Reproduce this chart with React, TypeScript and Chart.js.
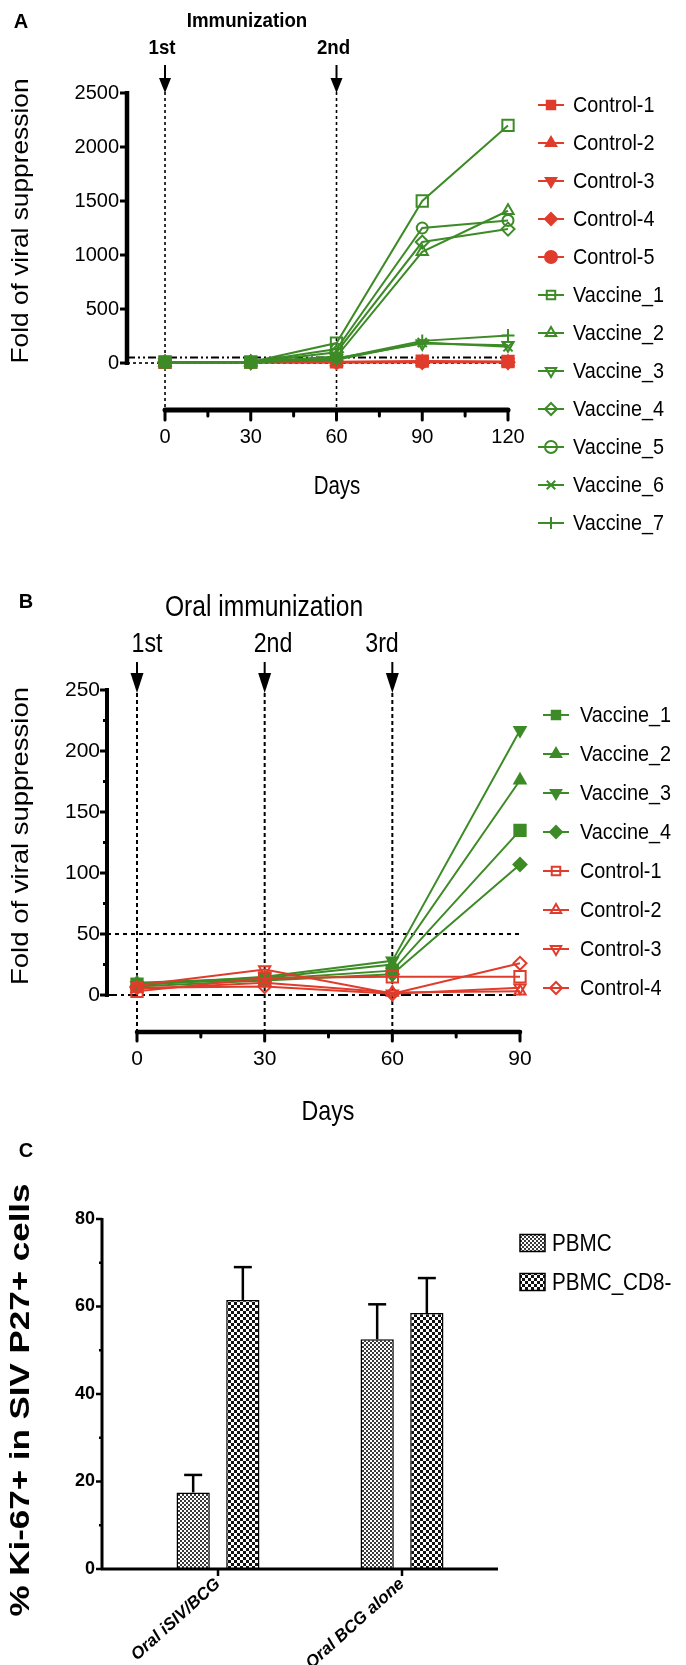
import { useEffect, useRef } from 'react'
import { Chart, registerables } from 'chart.js'

Chart.register(...registerables)

const SANS = "'Liberation Sans', Arial, Helvetica, sans-serif"
const GREEN = '#3d8b27'
const RED = '#e03c2c'

// ---- Panel A: fold of viral suppression, 2 immunizations
const daysA = [0, 30, 60, 90, 120]
const labelsA = ['Control-1', 'Control-2', 'Control-3', 'Control-4', 'Control-5',
  'Vaccine_1', 'Vaccine_2', 'Vaccine_3', 'Vaccine_4', 'Vaccine_5', 'Vaccine_6', 'Vaccine_7']
const control1A = [6, 8, 12, 18, 14]
const control2A = [5, 6, 9, 12, 9]
const control3A = [4, 7, 6, 9, 7]
const control4A = [7, 5, 8, 6, 6]
const control5A = [5, 6, 5, 8, 10]
const vaccine1A = [10, 9, 185, 1500, 2200]
const vaccine2A = [8, 10, 60, 1030, 1410]
const vaccine3A = [6, 8, 45, 180, 165]
const vaccine4A = [9, 7, 100, 1120, 1240]
const vaccine5A = [7, 9, 130, 1250, 1320]
const vaccine6A = [8, 6, 30, 190, 150]
const vaccine7A = [10, 9, 40, 205, 255]
const yTicksA = [0, 500, 1000, 1500, 2000, 2500]
const xTicksA = [0, 15, 30, 45, 60, 75, 90, 105, 120]
const shotsA = [0, 60]
const shotNamesA = ['1st', '2nd']

// ---- Panel B: oral immunization
const daysB = [0, 30, 60, 90]
const labelsB = ['Vaccine_1', 'Vaccine_2', 'Vaccine_3', 'Vaccine_4', 'Control-1', 'Control-2', 'Control-3', 'Control-4']
const vaccine1B = [9, 13, 20, 135]
const vaccine2B = [10, 14, 25, 176]
const vaccine3B = [8, 15, 28, 217]
const vaccine4B = [7, 12, 17, 107]
const control1B = [3, 14, 15, 15]
const control2B = [5, 10, 2, 3]
const control3B = [8, 21, 1, 6]
const control4B = [6, 7, 1, 26]
const yTicksB = [0, 25, 50, 75, 100, 125, 150, 175, 200, 225, 250]
const xTicksB = [0, 15, 30, 45, 60, 75, 90]
const shotsB = [0, 30, 60]
const shotNamesB = ['1st', '2nd', '3rd']

// ---- Panel C: % Ki-67+ bars
const groupsC = ['Oral iSIV/BCG', 'Oral BCG alone']
const pbmcC = [17.5, 52.5]
const pbmcErrC = [4, 8]
const cd8C = [61.5, 58.5]
const cd8ErrC = [7.5, 8]
const yTicksC = [0, 10, 20, 30, 40, 50, 60, 70, 80]

// ---------- drawing helpers
function txt(ctx: CanvasRenderingContext2D, s: string, x: number, y: number, font: string,
  o: { align?: CanvasTextAlign; sx?: number; rot?: number; len?: number } = {}) {
  ctx.save()
  ctx.translate(x, y)
  if (o.rot) ctx.rotate(o.rot)
  ctx.font = font
  let sx = o.sx ?? 1
  if (o.len) sx = o.len / ctx.measureText(s).width
  ctx.scale(sx, 1)
  ctx.fillStyle = '#000'
  ctx.textAlign = o.align ?? 'center'
  ctx.textBaseline = 'middle'
  ctx.fillText(s, 0, 0)
  ctx.restore()
}

function seg(ctx: CanvasRenderingContext2D, x0: number, y0: number, x1: number, y1: number, lw: number, dash: number[] = [], cap: CanvasLineCap = 'butt') {
  ctx.save()
  ctx.strokeStyle = '#000'
  ctx.lineWidth = lw
  ctx.lineCap = cap
  ctx.setLineDash(dash)
  ctx.beginPath()
  ctx.moveTo(x0, y0)
  ctx.lineTo(x1, y1)
  ctx.stroke()
  ctx.restore()
}

function arrow(ctx: CanvasRenderingContext2D, x: number, y0: number, y1: number, head: number, hw: number) {
  seg(ctx, x, y0, x, y1 - head + 2, 2)
  ctx.save()
  ctx.fillStyle = '#000'
  ctx.beginPath()
  ctx.moveTo(x - hw, y1 - head)
  ctx.lineTo(x + hw, y1 - head)
  ctx.lineTo(x, y1)
  ctx.closePath()
  ctx.fill()
  ctx.restore()
}

function drawMark(ctx: CanvasRenderingContext2D, mk: string, x: number, y: number, r: number, color: string, filled: boolean) {
  ctx.save()
  ctx.beginPath()
  if (mk === 'rect') {
    const s = r * Math.SQRT1_2
    ctx.rect(x - s, y - s, 2 * s, 2 * s)
  } else if (mk === 'circle') {
    ctx.arc(x, y, r, 0, Math.PI * 2)
  } else if (mk === 'rectRot') {
    ctx.moveTo(x, y - r); ctx.lineTo(x + r, y); ctx.lineTo(x, y + r); ctx.lineTo(x - r, y); ctx.closePath()
  } else if (mk === 'triangle' || mk === 'triDown') {
    const d = mk === 'triangle' ? 1 : -1
    for (let k = 0; k < 3; k++) {
      const a = (k * 2 * Math.PI) / 3
      const px = x + Math.sin(a) * r
      const py = y - d * Math.cos(a) * r
      if (k === 0) ctx.moveTo(px, py); else ctx.lineTo(px, py)
    }
    ctx.closePath()
  } else if (mk === 'cross') {
    ctx.moveTo(x - r, y); ctx.lineTo(x + r, y); ctx.moveTo(x, y - r); ctx.lineTo(x, y + r)
  } else if (mk === 'crossRot') {
    const s = r * Math.SQRT1_2
    ctx.moveTo(x - s, y - s); ctx.lineTo(x + s, y + s); ctx.moveTo(x + s, y - s); ctx.lineTo(x - s, y + s)
  }
  if (filled && mk !== 'cross' && mk !== 'crossRot') {
    ctx.fillStyle = color
    ctx.fill()
  }
  ctx.strokeStyle = color
  ctx.lineWidth = 2
  ctx.stroke()
  ctx.restore()
}

function lineSeries(label: string, days: number[], vals: number[], color: string, mk: string, filled: boolean, order: number) {
  return {
    label,
    data: days.map((d, i) => ({ x: d, y: vals[i] })),
    borderColor: color,
    backgroundColor: color,
    borderWidth: 2,
    pointStyle: mk === 'triDown' ? 'triangle' : mk,
    pointRotation: mk === 'triDown' ? 180 : 0,
    pointRadius: mk === 'rect' ? 8 : mk === 'circle' ? 5.5 : 6.5,
    pointBorderWidth: 2,
    pointBackgroundColor: filled ? color : 'rgba(255,255,255,0)',
    pointBorderColor: color,
    clip: false,
    order,
    mk,
    filled,
  }
}

function drawLegend(ctx: CanvasRenderingContext2D, chart: any, cx: number, tx: number, y0: number, dy: number) {
  chart.data.datasets.forEach((d: any, i: number) => {
    const y = y0 + i * dy
    ctx.save()
    ctx.strokeStyle = d.borderColor
    ctx.lineWidth = 2
    ctx.beginPath()
    ctx.moveTo(cx - 13, y)
    ctx.lineTo(cx + 13, y)
    ctx.stroke()
    ctx.restore()
    drawMark(ctx, d.mk, cx, y, 6, d.borderColor, d.filled)
    txt(ctx, d.label, tx, y + 1, `22px ${SANS}`, { align: 'left', sx: 0.9 })
  })
}

const hidden = { drawOnChartArea: false, drawTicks: true, color: 'rgba(0,0,0,0)' }

// ---------- Panel A
function configA(): any {
  const vals = [control1A, control2A, control3A, control4A, control5A,
    vaccine1A, vaccine2A, vaccine3A, vaccine4A, vaccine5A, vaccine6A, vaccine7A]
  const marks = ['rect', 'triangle', 'triDown', 'rectRot', 'circle', 'rect', 'triangle', 'triDown', 'rectRot', 'circle', 'crossRot', 'cross']
  const datasets = vals.map((v, i) =>
    lineSeries(labelsA[i], daysA, v, i < 5 ? RED : GREEN, marks[i], i < 5, i < 5 ? 1 : 0))

  const plugin = {
    id: 'panelA',
    beforeDatasetsDraw(chart: any) {
      const { ctx, chartArea: ca, scales: { x, y } } = chart
      shotsA.forEach(d => seg(ctx, x.getPixelForValue(d), 92, x.getPixelForValue(d), ca.bottom, 1.6, [3, 3]))
      seg(ctx, ca.left, y.getPixelForValue(0), x.getPixelForValue(120), y.getPixelForValue(0), 1.6, [3, 3])
      seg(ctx, ca.left, y.getPixelForValue(50), x.getPixelForValue(120), y.getPixelForValue(50), 2, [8, 3, 2, 3, 2, 3])
      // y axis
      seg(ctx, ca.left, y.getPixelForValue(0) + 2, ca.left, y.getPixelForValue(2500) - 2, 4.5)
      yTicksA.forEach(v => seg(ctx, ca.left, y.getPixelForValue(v), ca.left - 7, y.getPixelForValue(v), 3))
      // x axis
      seg(ctx, x.getPixelForValue(0), ca.bottom, x.getPixelForValue(120), ca.bottom, 5, [], 'round')
      xTicksA.forEach(v => seg(ctx, x.getPixelForValue(v), ca.bottom, x.getPixelForValue(v), ca.bottom + (v % 30 === 0 ? 10 : 6), 3, [], 'round'))
    },
    afterDraw(chart: any) {
      const { ctx, scales: { x } } = chart
      txt(ctx, 'A', 21, 22, `bold 20px ${SANS}`)
      txt(ctx, 'Immunization', 247, 21, `bold 21px ${SANS}`, { sx: 0.89 })
      shotsA.forEach((d, i) => {
        txt(ctx, shotNamesA[i], x.getPixelForValue(d) - 3, 48, `bold 21px ${SANS}`, { sx: 0.89 })
        arrow(ctx, x.getPixelForValue(d), 65, 93, 15, 6)
      })
      txt(ctx, 'Fold of viral suppression', 21, 221, `24px ${SANS}`, { rot: -Math.PI / 2, len: 285 })
      txt(ctx, 'Days', 337, 487, `25px ${SANS}`, { sx: 0.82 })
      drawLegend(ctx, chart, 551, 573, 105, 38)
    },
  }

  return {
    type: 'line',
    data: { datasets },
    plugins: [plugin],
    options: {
      animation: false,
      responsive: true,
      maintainAspectRatio: false,
      layout: { padding: { left: 0, top: 93, right: 178, bottom: 0 } },
      plugins: { legend: { display: false }, tooltip: { enabled: false } },
      scales: {
        x: {
          type: 'linear', min: -13.3, max: 120,
          afterFit: (s: any) => { s.height = 135 },
          afterBuildTicks: (s: any) => { s.ticks = xTicksA.map(v => ({ value: v })) },
          grid: { ...hidden, tickLength: 10 },
          border: { display: false },
          ticks: { autoSkip: false, maxRotation: 0, padding: 5, color: '#000', font: { size: 20, family: SANS },
            callback: (v: any) => (v % 30 === 0 ? String(v) : '') },
        },
        y: {
          min: -435, max: 2500,
          afterFit: (s: any) => { s.width = 127 },
          afterBuildTicks: (s: any) => { s.ticks = yTicksA.map(v => ({ value: v })) },
          grid: { ...hidden, tickLength: 6 },
          border: { display: false },
          ticks: { padding: 2, color: '#000', font: { size: 20, family: SANS }, callback: (v: any) => String(v) },
        },
      },
    },
  }
}

// ---------- Panel B
function configB(): any {
  const vals = [vaccine1B, vaccine2B, vaccine3B, vaccine4B, control1B, control2B, control3B, control4B]
  const marks = ['rect', 'triangle', 'triDown', 'rectRot', 'rect', 'triangle', 'triDown', 'rectRot']
  const datasets = vals.map((v, i) =>
    lineSeries(labelsB[i], daysB, v, i < 4 ? GREEN : RED, marks[i], i < 4, i < 4 ? 1 : 0))

  const plugin = {
    id: 'panelB',
    beforeDatasetsDraw(chart: any) {
      const { ctx, chartArea: ca, scales: { x, y } } = chart
      shotsB.forEach(d => seg(ctx, x.getPixelForValue(d), 133, x.getPixelForValue(d), ca.bottom, 2, [4, 3]))
      seg(ctx, ca.left, y.getPixelForValue(50), x.getPixelForValue(90), y.getPixelForValue(50), 2, [4, 4])
      seg(ctx, ca.left, y.getPixelForValue(0), x.getPixelForValue(90), y.getPixelForValue(0), 2, [10, 4, 3, 4])
      seg(ctx, ca.left, y.getPixelForValue(0) + 2, ca.left, y.getPixelForValue(250) - 2, 4)
      yTicksB.forEach(v => seg(ctx, ca.left, y.getPixelForValue(v), ca.left - (v % 50 === 0 ? 7 : 4), y.getPixelForValue(v), 3))
      seg(ctx, x.getPixelForValue(0), ca.bottom, x.getPixelForValue(90), ca.bottom, 4.5, [], 'round')
      xTicksB.forEach(v => seg(ctx, x.getPixelForValue(v), ca.bottom, x.getPixelForValue(v), ca.bottom + (v % 30 === 0 ? 9 : 5), 3, [], 'round'))
    },
    afterDraw(chart: any) {
      const { ctx, scales: { x } } = chart
      txt(ctx, 'B', 26, 42, `bold 20px ${SANS}`)
      txt(ctx, 'Oral immunization', 264, 48, `30px ${SANS}`, { sx: 0.82 })
      const nameX = [147, 273, 382]
      shotsB.forEach((d, i) => {
        txt(ctx, shotNamesB[i], nameX[i], 85, `27px ${SANS}`, { sx: 0.86 })
        arrow(ctx, x.getPixelForValue(d), 102, 133, 20, 6.5)
      })
      txt(ctx, 'Fold of viral suppression', 21, 276, `24px ${SANS}`, { rot: -Math.PI / 2, len: 298 })
      txt(ctx, 'Days', 328, 552, `28px ${SANS}`, { sx: 0.83 })
      drawLegend(ctx, chart, 556, 580, 155, 39)
    },
  }

  return {
    type: 'line',
    data: { datasets },
    plugins: [plugin],
    options: {
      animation: false,
      responsive: true,
      maintainAspectRatio: false,
      layout: { padding: { left: 0, top: 130, right: 166, bottom: 0 } },
      plugins: { legend: { display: false }, tooltip: { enabled: false } },
      scales: {
        x: {
          type: 'linear', min: -7.05, max: 90,
          afterFit: (s: any) => { s.height = 108 },
          afterBuildTicks: (s: any) => { s.ticks = xTicksB.map(v => ({ value: v })) },
          grid: { ...hidden, tickLength: 10 },
          border: { display: false },
          ticks: { autoSkip: false, maxRotation: 0, padding: 5, color: '#000', font: { size: 21, family: SANS },
            callback: (v: any) => (v % 30 === 0 ? String(v) : '') },
        },
        y: {
          min: -30.3, max: 250,
          afterFit: (s: any) => { s.width = 107 },
          afterBuildTicks: (s: any) => { s.ticks = yTicksB.map(v => ({ value: v })) },
          grid: { ...hidden, tickLength: 5 },
          border: { display: false },
          ticks: { autoSkip: false, padding: 2, color: '#000', font: { size: 21, family: SANS },
            callback: (v: any) => (v % 50 === 0 ? String(v) : '') },
        },
      },
    },
  }
}

// ---------- Panel C
function checker(cell: number, dark: string) {
  const c = document.createElement('canvas')
  c.width = c.height = cell * 2
  const g = c.getContext('2d')!
  g.fillStyle = '#fff'
  g.fillRect(0, 0, cell * 2, cell * 2)
  g.fillStyle = dark
  g.fillRect(0, 0, cell, cell)
  g.fillRect(cell, cell, cell, cell)
  return g.createPattern(c, 'repeat')
}

function configC(): any {
  const fine = checker(2, '#3a3a3a')
  const coarse = checker(3, '#111')
  const errs = [pbmcErrC, cd8ErrC]
  const datasets = [
    { label: 'PBMC', data: pbmcC.map((v, i) => ({ x: i, y: v })), backgroundColor: fine },
    { label: 'PBMC_CD8-', data: cd8C.map((v, i) => ({ x: i, y: v })), backgroundColor: coarse },
  ].map(d => ({ ...d, borderColor: '#000', borderWidth: 1.5, categoryPercentage: 0.54, barPercentage: 0.67 }))

  const plugin = {
    id: 'panelC',
    afterDatasetsDraw(chart: any) {
      const { ctx, chartArea: ca, scales: { x, y } } = chart
      chart.data.datasets.forEach((d: any, di: number) => {
        chart.getDatasetMeta(di).data.forEach((el: any, j: number) => {
          const v = d.data[j].y
          const top = y.getPixelForValue(v + errs[di][j])
          seg(ctx, el.x, y.getPixelForValue(v), el.x, top, 2.5)
          seg(ctx, el.x - 9, top, el.x + 9, top, 2.5)
        })
      })
      seg(ctx, ca.left, y.getPixelForValue(0), ca.left, y.getPixelForValue(80) - 1, 3)
      yTicksC.forEach(v => seg(ctx, ca.left, y.getPixelForValue(v), ca.left - (v % 20 === 0 ? 6 : 3), y.getPixelForValue(v), 2.5))
      seg(ctx, ca.left - 1, ca.bottom, ca.right, ca.bottom, 3)
      groupsC.forEach((_, i) => seg(ctx, x.getPixelForValue(i), ca.bottom, x.getPixelForValue(i), ca.bottom + 7, 2.5))
    },
    afterDraw(chart: any) {
      const { ctx } = chart
      txt(ctx, 'C', 26, 11, `bold 20px ${SANS}`)
      txt(ctx, '% Ki-67+ in SIV P27+ cells', 22, 260, `bold 27px ${SANS}`, { rot: -Math.PI / 2, len: 433 })
      chart.data.datasets.forEach((d: any, i: number) => {
        const yy = 103 + i * 39
        ctx.save()
        ctx.fillStyle = d.backgroundColor
        ctx.fillRect(520, yy - 8.5, 25, 17)
        ctx.strokeStyle = '#000'
        ctx.lineWidth = 1.5
        ctx.strokeRect(520, yy - 8.5, 25, 17)
        ctx.restore()
        txt(ctx, d.label, 552, yy + 1, `24px ${SANS}`, { align: 'left', sx: 0.86 })
      })
    },
  }

  return {
    type: 'bar',
    data: { datasets },
    plugins: [plugin],
    options: {
      animation: false,
      responsive: true,
      maintainAspectRatio: false,
      layout: { padding: { left: 0, top: 79, right: 188, bottom: 0 } },
      plugins: { legend: { display: false }, tooltip: { enabled: false } },
      scales: {
        x: {
          type: 'linear', min: -0.6304, max: 1.5217, offset: false,
          afterFit: (s: any) => { s.height = 96 },
          afterBuildTicks: (s: any) => { s.ticks = groupsC.map((_, i) => ({ value: i })) },
          grid: { ...hidden, offset: false, tickLength: 5 },
          border: { display: false },
          ticks: { autoSkip: false, minRotation: 42, maxRotation: 42, padding: 0, color: '#000',
            font: { size: 17, family: SANS, weight: 'bold', style: 'italic' },
            callback: (v: any) => groupsC[v] ?? '' },
        },
        y: {
          min: 0, max: 80,
          afterFit: (s: any) => { s.width = 102 },
          afterBuildTicks: (s: any) => { s.ticks = yTicksC.map(v => ({ value: v })) },
          grid: { ...hidden, tickLength: 5 },
          border: { display: false },
          ticks: { autoSkip: false, padding: 2, color: '#000', font: { size: 18, family: SANS, weight: 'bold' },
            callback: (v: any) => (v % 20 === 0 ? String(v) : '') },
        },
      },
    },
  }
}

function Panel({ top, height, make }: { top: number; height: number; make: () => any }) {
  const canvasRef = useRef<HTMLCanvasElement>(null)
  useEffect(() => {
    if (!canvasRef.current) return
    const chart = new Chart(canvasRef.current, make())
    return () => { chart.destroy() }
  }, [make])
  return (
    <div style={{ position: 'absolute', left: 0, top, width: 686, height }}>
      <canvas ref={canvasRef} />
    </div>
  )
}

export default function App() {
  return (
    <div style={{ position: 'absolute', left: 0, top: 0, width: 686, height: 1665, background: '#fff' }}>
      <Panel top={0} height={545} make={configA} />
      <Panel top={560} height={580} make={configB} />
      <Panel top={1140} height={525} make={configC} />
    </div>
  )
}
